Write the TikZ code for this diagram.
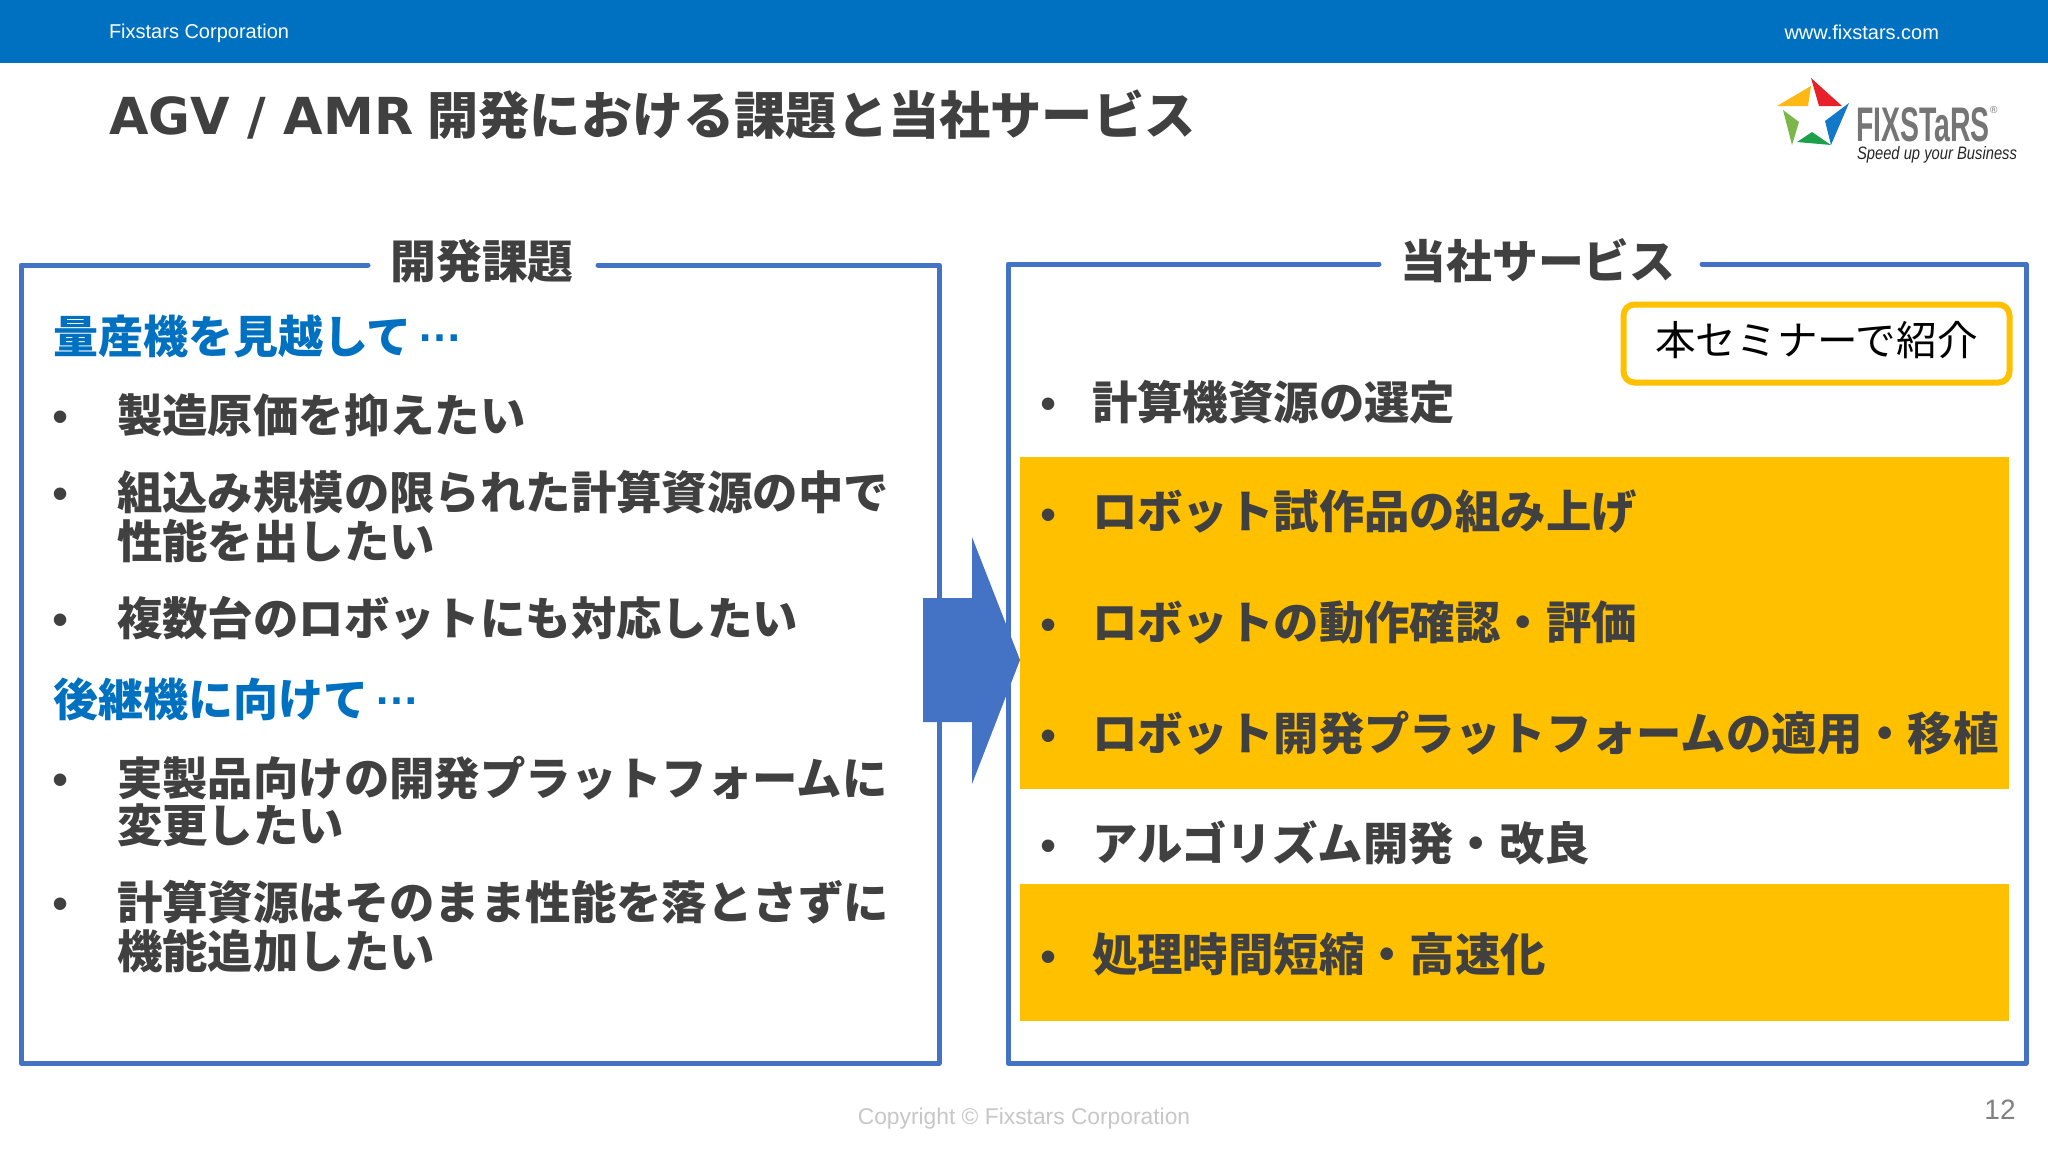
\documentclass[tikz,border=0pt]{standalone}
\usepackage{fontspec}
\setmainfont{Liberation Sans}
\newfontfamily\cjk{Noto Sans CJK JP}
\newfontfamily\dejavu{DejaVu Sans}
\usetikzlibrary{calc}
\definecolor{barblue}{HTML}{0070C0}
\definecolor{framecol}{HTML}{4472C4}
\definecolor{amber}{HTML}{FFC000}
\definecolor{ink}{HTML}{404040}
\definecolor{logogray}{HTML}{757575}
\definecolor{starred}{HTML}{E8202A}
\definecolor{staryellow}{HTML}{FDB813}
\definecolor{starblue}{HTML}{1478C8}
\definecolor{starlime}{HTML}{7AB648}
\definecolor{stargreen}{HTML}{1CA04A}
\newcommand{\fs}[1]{\fontsize{#1}{#1}\selectfont}
\newcommand{\midellipsis}{\hspace*{6pt}\raisebox{12pt}{\rmfamily\bfseries …}}
\tikzset{
  x=1pt,y=-1pt,
  every node/.style={inner sep=0pt,outer sep=0pt},
  item/.style={anchor=west,font=\cjk\bfseries\fs{45.4},text=ink},
  head/.style={anchor=center,font=\cjk\bfseries\fs{45.8},text=ink},
  sub/.style={anchor=west,font=\cjk\bfseries\fs{45},text=barblue},
  dot/.style={anchor=center,font=\fs{46},text=ink,yshift=-6.5pt},
  frame/.style={draw=framecol,line width=5pt,line join=round,line cap=round},
  small/.style={font=\fs{20},text=white},
}
\begin{document}
\begin{tikzpicture}
\useasboundingbox (0,0) rectangle (2048,1152);
\fill[white] (0,0) rectangle (2048,1152);
\fill[barblue] (0,0) rectangle (2048,63);
\node[small,anchor=west] (corp) at (109,33) {Fixstars Corporation};
\node[small,anchor=east] (web) at (1939,32) {www.fixstars.com};
\node[anchor=west,font=\cjk\bfseries\fs{51.2},text=ink] (title) at (109,115) {{\dejavu\fs{51}AGV / AMR}\hspace*{14pt}開発における課題と当社サービス};
% logo
\fill[starred] (1811,78) -- (1842,106) -- (1819,106) -- cycle;
\fill[staryellow] (1777,106) -- (1811,86) -- (1808,106) -- cycle;
\fill[starblue] (1849,103) -- (1831,145) -- (1825,121) -- cycle;
\fill[starlime] (1783,110) -- (1799,122) -- (1792,145) -- cycle;
\fill[stargreen] (1797,142) -- (1812,132) -- (1831,145) -- cycle;
\node[anchor=west,text=logogray] (brand) at (1856,125) {\scalebox{0.79}[1.35]{\fs{36}\bfseries FIXSTaRS}};
\node[anchor=west,font=\fs{10},text=logogray] (reg) at (1990,110) {®};
\node[anchor=west,font=\itshape\fs{18},text=black!85] (slogan) at (1857,155) {\scalebox{0.82}[1]{Speed up your Business}};
% frames
\draw[frame] (368,265) -- (21,265) -- (21,1063) -- (939,1063) -- (939,265) -- (598,265);
\draw[frame] (1379,264) -- (1008,264) -- (1008,1063) -- (2026,1063) -- (2026,264) -- (1702,264);
\node[head] (lefthead) at (482,261) {開発課題};
\node[head] (righthead) at (1538,261) {当社サービス};
% highlights
\fill[amber] (1020,457) rectangle (2009,789);
\fill[amber] (1020,884) rectangle (2009,1021);
% arrow
\fill[framecol] (923,598) -- (972,598) -- (972,537) -- (1020,660) -- (972,784) -- (972,722) -- (923,722) -- cycle;
% left text
\node[sub] (s1) at (53,337) {量産機を見越して\midellipsis};
\node[dot] at (61,415) {•}; \node[item] (l1) at (117,415) {製造原価を抑えたい};
\node[dot] at (61,492) {•}; \node[item] (l2) at (117,492) {組込み規模の限られた計算資源の中で};
\node[item] (l2b) at (117,541) {性能を出したい};
\node[dot] at (61,618) {•}; \node[item] (l3) at (117,618) {複数台のロボットにも対応したい};
\node[sub] (s2) at (53,699) {後継機に向けて\midellipsis};
\node[dot] at (61,778) {•}; \node[item] (l4) at (117,778) {実製品向けの開発プラットフォームに};
\node[item] (l4b) at (117,825) {変更したい};
\node[dot] at (61,902) {•}; \node[item] (l5) at (117,902) {計算資源はそのまま性能を落とさずに};
\node[item] (l5b) at (117,951) {機能追加したい};
% right text
\node[draw=amber,line width=6pt,rounded corners=11pt,fill=white,minimum width=386pt,minimum height=78pt,font=\cjk\fs{40.6},text=black] (tag) at (1816.5,343.5) {\raisebox{10pt}{本セミナーで紹介}};
\node[dot] at (1049,402) {•}; \node[item] (r1) at (1092,402) {計算機資源の選定};
\node[dot] at (1049,513) {•}; \node[item] (r2) at (1092,512) {ロボット試作品の組み上げ};
\node[dot] at (1049,623) {•}; \node[item] (r3) at (1092,622) {ロボットの動作確認・評価};
\node[dot] at (1049,734) {•}; \node[item] (r4) at (1092,733) {ロボット開発プラットフォームの適用・移植};
\node[dot] at (1049,844) {•}; \node[item] (r5) at (1092,843) {アルゴリズム開発・改良};
\node[dot] at (1049,955) {•}; \node[item] (r6) at (1092,954) {処理時間短縮・高速化};
% footer
\node[font=\fs{22.8},text=black!22] (copy) at (1024,1119) {Copyright © Fixstars Corporation};
\node[font=\fs{28},text=black!50] (page) at (2000,1110) {12};
\end{tikzpicture}
\end{document}
